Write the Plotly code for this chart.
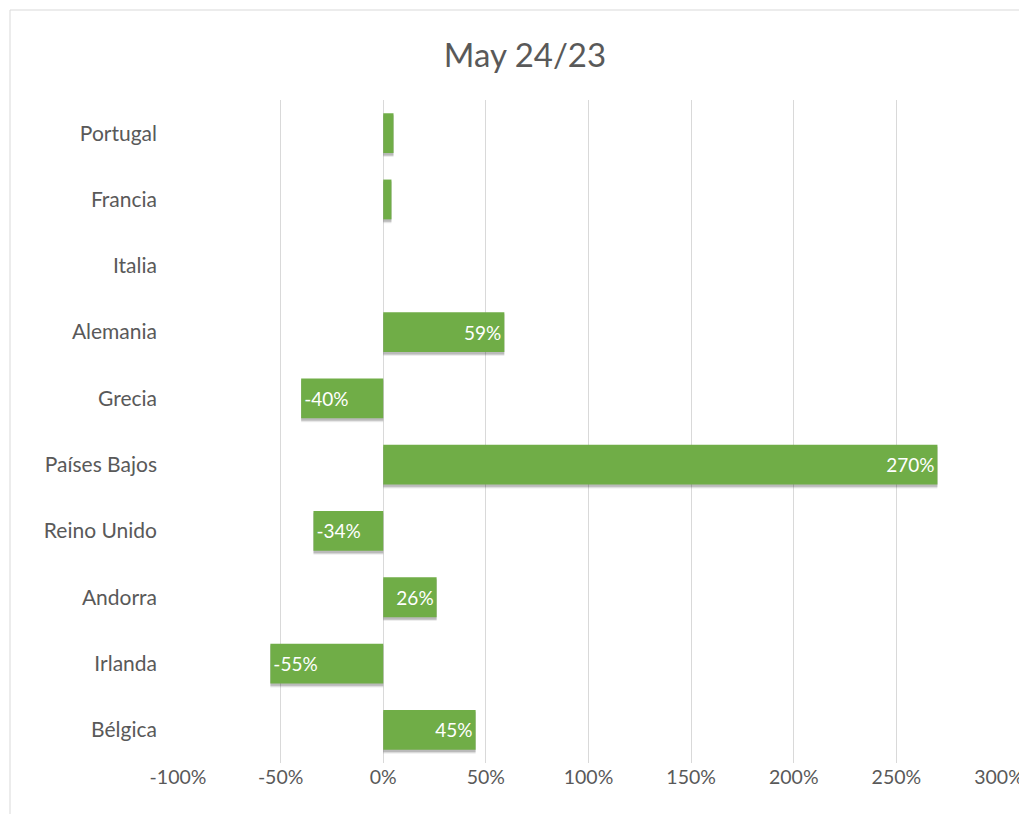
import plotly.graph_objects as go

categories = ["Portugal", "Francia", "Italia", "Alemania", "Grecia", "Países Bajos",
              "Reino Unido", "Andorra", "Irlanda", "Bélgica"]
values = [0.05, 0.04, 0.0, 0.59, -0.40, 2.70, -0.34, 0.26, -0.55, 0.45]
labels = ["", "", "", "59%", "-40%", "270%", "-34%", "26%", "-55%", "45%"]
tick_vals = [-1.0, -0.5, 0.0, 0.5, 1.0, 1.5, 2.0, 2.5, 3.0]
tick_text = ["-100%", "-50%", "0%", "50%", "100%", "150%", "200%", "250%", "300%"]

FONT = "Lato"
GREEN = "#70AD47"
W, H = 1019, 806          # page body has an 8px margin
L, T = 170, 92
PW, PH = 821, 663

fig = go.Figure()
# soft shadow layers
for off, wid, alpha in [(-0.36, 0.64, 0.07), (-0.345, 0.62, 0.10), (-0.335, 0.6, 0.12)]:
    fig.add_trace(go.Bar(
        y=categories, x=values, orientation="h",
        marker=dict(color=f"rgba(0,0,0,{alpha})", line=dict(width=0)),
        width=wid, offset=off, hoverinfo="skip",
    ))
fig.add_trace(go.Bar(
    y=categories, x=values, orientation="h",
    marker=dict(color=GREEN, line=dict(width=0)),
    width=0.6, offset=-0.3,
    text=labels, textposition="inside", insidetextanchor="end",
    constraintext="none",
    textfont=dict(color="white", size=19, family=FONT),
    hoverinfo="skip",
))

fig.update_layout(
    width=W, height=H,
    margin=dict(l=L, r=W - L - PW, t=T, b=H - T - PH, autoexpand=False),
    paper_bgcolor="white", plot_bgcolor="white",
    barmode="overlay",
    title=dict(text="May 24/23", x=517 / W, xanchor="center", y=1 - 47 / H, yanchor="middle",
               font=dict(family=FONT, size=33, color="#595959")),
    showlegend=False,
    xaxis=dict(range=[-1.0, 3.0], tickvals=tick_vals, ticktext=tick_text,
               showgrid=True, gridcolor="#D9D9D9", gridwidth=1, zeroline=False,
               showline=False, ticks="", ticklabelstandoff=0, automargin=False,
               tickfont=dict(family=FONT, size=19.5, color="#595959")),
    yaxis=dict(categoryorder="array", categoryarray=categories[::-1],
               showgrid=False, zeroline=False, showline=False, ticks="",
               ticklabelstandoff=20, automargin=False,
               tickfont=dict(family=FONT, size=21, color="#595959")),
    shapes=[dict(type="rect", xref="paper", yref="paper",
                 x0=(2 - L) / PW, x1=(1040 - L) / PW,
                 y0=(T + PH - 830) / PH, y1=(T + PH - 2) / PH,
                 line=dict(color="#D9D9D9", width=1), fillcolor="rgba(0,0,0,0)",
                 layer="below")],
)

fig.write_html("out.html")
